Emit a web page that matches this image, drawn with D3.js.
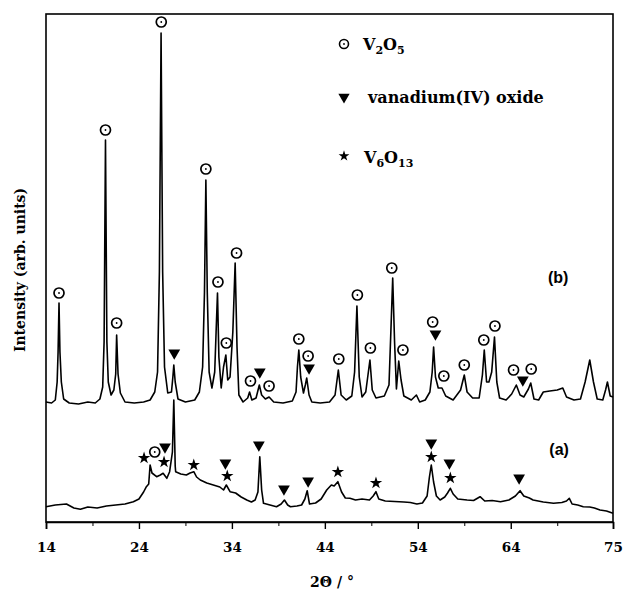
<!DOCTYPE html>
<html>
<head>
<meta charset="utf-8">
<script src="https://cdn.jsdelivr.net/npm/d3@7"></script>
<style>
  body { margin: 0; background: #fff; }
  svg { display: block; }
</style>
</head>
<body>
<svg id="chart"></svg>
<script>
// 2theta (deg), intensity (arb. units)
const patternB = [
  [14.0, 1200], [14.6, 1190], [15.0, 1220], [15.2, 1400], [15.3, 1700], [15.4, 2190], [15.5, 1700],
  [15.65, 1400], [15.9, 1230], [16.5, 1190], [17.5, 1180], [18.5, 1200], [19.3, 1190], [19.8, 1230],
  [20.1, 1350], [20.25, 1800], [20.4, 3820], [20.55, 1800], [20.7, 1400], [21.0, 1270], [21.3, 1320],
  [21.5, 1480], [21.6, 1870], [21.75, 1480], [22.0, 1290], [22.5, 1200], [23.5, 1190], [24.5, 1200],
  [25.2, 1220], [25.7, 1300], [26.0, 1500], [26.2, 2500], [26.38, 4890], [26.55, 2500], [26.75, 1550],
  [27.1, 1290], [27.5, 1300], [27.65, 1450], [27.75, 1570], [27.9, 1400], [28.2, 1230], [29.0, 1200],
  [30.0, 1220], [30.5, 1300], [30.85, 1550], [31.05, 2300], [31.2, 3420], [31.35, 2300], [31.55, 1500],
  [31.85, 1340], [32.15, 1500], [32.3, 1900], [32.45, 2290], [32.6, 1650], [32.85, 1340], [33.1, 1550],
  [33.35, 1670], [33.55, 1420], [33.8, 1450], [34.1, 1900], [34.35, 2590], [34.55, 1750], [34.75, 1270],
  [35.2, 1200], [35.7, 1240], [35.9, 1300], [36.15, 1220], [36.6, 1240], [36.95, 1370], [37.2, 1270],
  [37.6, 1230], [38.0, 1250], [38.5, 1200], [39.5, 1190], [40.5, 1210], [40.9, 1300], [41.05, 1550],
  [41.2, 1720], [41.4, 1450], [41.7, 1290], [41.9, 1370], [42.05, 1440], [42.3, 1270], [42.6, 1200],
  [43.5, 1190], [44.5, 1200], [45.1, 1270], [45.45, 1520], [45.75, 1270], [46.3, 1220], [46.9, 1260],
  [47.2, 1500], [47.45, 2160], [47.7, 1450], [48.0, 1250], [48.4, 1300], [48.85, 1620], [49.1, 1320],
  [49.5, 1240], [50.4, 1260], [50.9, 1370], [51.1, 1900], [51.3, 2440], [51.5, 1800], [51.7, 1330],
  [51.95, 1610], [52.2, 1420], [52.5, 1260], [53.3, 1220], [53.85, 1270], [54.2, 1200], [54.8, 1220],
  [55.3, 1300], [55.55, 1500], [55.7, 1750], [55.9, 1450], [56.2, 1340], [56.6, 1340], [57.0, 1260],
  [57.8, 1220], [58.6, 1320], [59.0, 1470], [59.3, 1300], [59.9, 1240], [60.6, 1240], [60.95, 1470],
  [61.15, 1720], [61.4, 1400], [61.65, 1400], [61.95, 1500], [62.25, 1850], [62.5, 1400], [62.8, 1240],
  [63.5, 1220], [64.1, 1280], [64.6, 1370], [65.0, 1270], [65.4, 1250], [65.9, 1330], [66.15, 1390],
  [66.5, 1230], [67.0, 1220], [67.5, 1300], [68.2, 1310], [69.0, 1320], [69.6, 1340], [70.0, 1250],
  [70.8, 1220], [71.5, 1230], [72.0, 1400], [72.5, 1620], [72.9, 1400], [73.3, 1230], [73.9, 1220],
  [74.2, 1320], [74.4, 1400], [74.7, 1260], [75.0, 1250]
];

const patternA = [
  [14.0, 153], [15.0, 170], [16.2, 180], [17.0, 140], [17.7, 127], [18.5, 150], [19.5, 140], [20.5, 160],
  [21.5, 170], [22.5, 180], [23.4, 203], [24.0, 230], [24.5, 300], [24.8, 353], [25.05, 380], [25.2, 570],
  [25.4, 490], [25.9, 453], [26.3, 470], [26.6, 487], [27.0, 437], [27.3, 503], [27.6, 700], [27.75, 1220],
  [27.9, 560], [27.95, 503], [28.5, 480], [29.1, 470], [29.5, 490], [29.9, 503], [30.2, 450], [30.6, 420],
  [31.3, 390], [32.0, 370], [32.7, 350], [33.1, 320], [33.4, 370], [33.8, 303], [34.4, 290], [35.0, 250],
  [35.6, 220], [36.1, 200], [36.5, 220], [36.8, 300], [37.0, 653], [37.2, 320], [37.4, 187], [38.1, 170],
  [38.8, 153], [39.3, 180], [39.65, 220], [40.0, 170], [40.3, 153], [41.0, 160], [41.5, 170], [41.85, 230],
  [42.1, 313], [42.35, 180], [43.0, 190], [43.6, 230], [44.2, 320], [44.7, 370], [45.0, 360], [45.4, 403],
  [45.8, 300], [46.2, 240], [46.7, 237], [47.3, 220], [48.0, 230], [48.8, 220], [49.2, 260], [49.5, 303],
  [49.8, 230], [50.5, 210], [51.5, 205], [52.5, 200], [53.2, 195], [53.9, 180], [54.5, 190], [55.0, 260],
  [55.25, 450], [55.45, 570], [55.7, 400], [56.0, 260], [56.4, 220], [56.9, 250], [57.2, 290], [57.5, 337],
  [57.8, 280], [58.3, 230], [59.3, 220], [60.0, 215], [60.7, 253], [61.2, 210], [62.0, 215], [62.9, 203],
  [63.8, 220], [64.5, 260], [65.0, 313], [65.4, 260], [66.0, 240], [66.4, 220], [67.5, 200], [68.6, 187],
  [69.5, 195], [70.0, 210], [70.3, 237], [70.6, 180], [71.2, 170], [71.8, 153], [72.5, 150], [73.0, 140],
  [73.6, 120], [74.3, 110], [75.0, 87]
];

// phase markers: [2theta, intensity at marker centre]
const v2o5B = [
  [15.4, 2290], [20.4, 3920], [21.6, 1990], [26.4, 5000], [31.2, 3530], [32.5, 2400], [33.4, 1790],
  [34.5, 2690], [36.0, 1410], [38.0, 1360], [41.2, 1830], [42.2, 1660], [45.5, 1630], [47.5, 2270],
  [48.9, 1740], [51.2, 2540], [52.4, 1720], [55.6, 2000], [56.8, 1460], [59.0, 1570], [61.1, 1820],
  [62.3, 1960], [64.3, 1520], [66.2, 1530]
];
const vo2B = [[27.8, 1690], [37.0, 1500], [42.3, 1540], [55.9, 1880], [65.3, 1420]];
const v2o5A = [[25.7, 700]];
const vo2A = [
  [26.8, 750], [33.3, 590], [36.9, 770], [39.6, 330], [42.2, 410], [55.45, 790], [57.4, 590], [64.9, 440]
];
const v6o13A = [
  [24.55, 640], [26.7, 600], [29.9, 570], [33.5, 460], [45.4, 500], [49.5, 390], [55.45, 650], [57.5, 440]
];

const majorTicks = [14, 24, 34, 44, 54, 64, 75];
const minorTicks = [19, 29, 39, 49, 59, 69];
const traceLabels = [['(b)', 69.1, 2450], ['(a)', 69.2, 730]];

const W = 625, H = 589;
const plot = {left: 46, right: 613, top: 14, bottom: 522};
const serif = "'DejaVu Serif', serif";

const svg = d3.select('#chart').attr('width', W).attr('height', H);

const x = d3.scaleLinear().domain([14, 75]).range([plot.left, plot.right]);
const y = d3.scaleLinear().domain([0, 5080]).range([plot.bottom, plot.top]);

// frame
svg.append('rect')
  .attr('x', plot.left).attr('y', plot.top)
  .attr('width', plot.right - plot.left).attr('height', plot.bottom - plot.top)
  .attr('fill', 'none').attr('stroke', '#000').attr('stroke-width', 1.6);

// x axis
const xAxis = d3.axisBottom(x).tickValues(majorTicks).tickSize(7).tickFormat(d3.format('d'));
const gx = svg.append('g').attr('transform', `translate(0,${plot.bottom})`).call(xAxis);
gx.select('.domain').attr('stroke-width', 1.6);
gx.selectAll('.tick line').attr('stroke-width', 1.4);
gx.selectAll('.tick text')
  .attr('y', 20).attr('dy', '0.71em')
  .style('font-family', serif).style('font-weight', 'bold').style('font-size', '13.5px');

svg.append('g').attr('transform', `translate(0,${plot.bottom})`)
  .call(d3.axisBottom(x).tickValues(minorTicks).tickSize(4).tickFormat(''))
  .call(g => g.select('.domain').remove());

// traces
const line = d3.line().x(d => x(d[0])).y(d => y(d[1]));
[patternB, patternA].forEach(p => {
  svg.append('path').datum(p)
    .attr('d', line)
    .attr('fill', 'none').attr('stroke', '#000')
    .attr('stroke-width', 1.6).attr('stroke-linejoin', 'round');
});

// marker drawing helpers
function drawCircles(g, data, r) {
  const m = g.selectAll(null).data(data).enter().append('g')
    .attr('transform', d => `translate(${x(d[0])},${y(d[1])})`);
  m.append('circle').attr('r', r).attr('fill', '#fff').attr('stroke', '#000').attr('stroke-width', 1.7);
  m.append('circle').attr('r', 0.9).attr('fill', '#000');
}
function drawTriangles(g, data, size) {
  g.selectAll(null).data(data).enter().append('path')
    .attr('d', d3.symbol(d3.symbolTriangle, size))
    .attr('transform', d => `translate(${x(d[0])},${y(d[1])}) rotate(180)`)
    .attr('fill', '#000');
}
function drawStars(g, data, size) {
  g.selectAll(null).data(data).enter().append('path')
    .attr('d', d3.symbol(d3.symbolStar, size))
    .attr('transform', d => `translate(${x(d[0])},${y(d[1])})`)
    .attr('fill', '#000');
}

const marks = svg.append('g');
drawCircles(marks, v2o5B, 5);
drawCircles(marks, v2o5A, 5);
drawTriangles(marks, vo2B, 60);
drawTriangles(marks, vo2A, 60);
drawStars(marks, v6o13A, 48);

// trace labels
svg.selectAll('.trace-label').data(traceLabels).enter().append('text')
  .attr('class', 'trace-label')
  .attr('x', d => x(d[1])).attr('y', d => y(d[2]))
  .attr('text-anchor', 'middle').attr('dy', '0.35em')
  .style('font-family', "'Liberation Sans', Arial, sans-serif")
  .style('font-weight', 'bold').style('font-size', '16px')
  .text(d => d[0]);

// legend
const legend = svg.append('g').attr('transform', 'translate(344,0)')
  .style('font-family', serif).style('font-weight', 'bold').style('font-size', '16px');

const lc = legend.append('g').attr('transform', 'translate(0,44)');
lc.append('circle').attr('r', 4.5).attr('fill', '#fff').attr('stroke', '#000').attr('stroke-width', 1.6);
lc.append('circle').attr('r', 0.9).attr('fill', '#000');
const t1 = legend.append('text').attr('x', 19).attr('y', 50);
t1.append('tspan').text('V');
t1.append('tspan').attr('dy', 4).style('font-size', '11px').text('2');
t1.append('tspan').attr('dy', -4).text('O');
t1.append('tspan').attr('dy', 4).style('font-size', '11px').text('5');

legend.append('path').attr('d', d3.symbol(d3.symbolTriangle, 55))
  .attr('transform', 'translate(0,97) rotate(180)').attr('fill', '#000');
legend.append('text').attr('x', 24).attr('y', 103).text('vanadium(IV) oxide');

legend.append('path').attr('d', d3.symbol(d3.symbolStar, 36))
  .attr('transform', 'translate(0,156)').attr('fill', '#000');
const t3 = legend.append('text').attr('x', 20).attr('y', 163);
t3.append('tspan').text('V');
t3.append('tspan').attr('dy', 4).style('font-size', '11px').text('6');
t3.append('tspan').attr('dy', -4).text('O');
t3.append('tspan').attr('dy', 4).style('font-size', '11px').text('13');

// axis titles
svg.append('text')
  .attr('transform', 'translate(25,270) rotate(-90)')
  .attr('text-anchor', 'middle')
  .style('font-family', serif).style('font-weight', 'bold').style('font-size', '14px')
  .text('Intensity (arb. units)');

svg.append('text')
  .attr('x', 332).attr('y', 587)
  .attr('text-anchor', 'middle')
  .style('font-family', serif).style('font-weight', 'bold').style('font-size', '14px')
  .text('2\u0398 / \u00b0');
</script>
</body>
</html>
